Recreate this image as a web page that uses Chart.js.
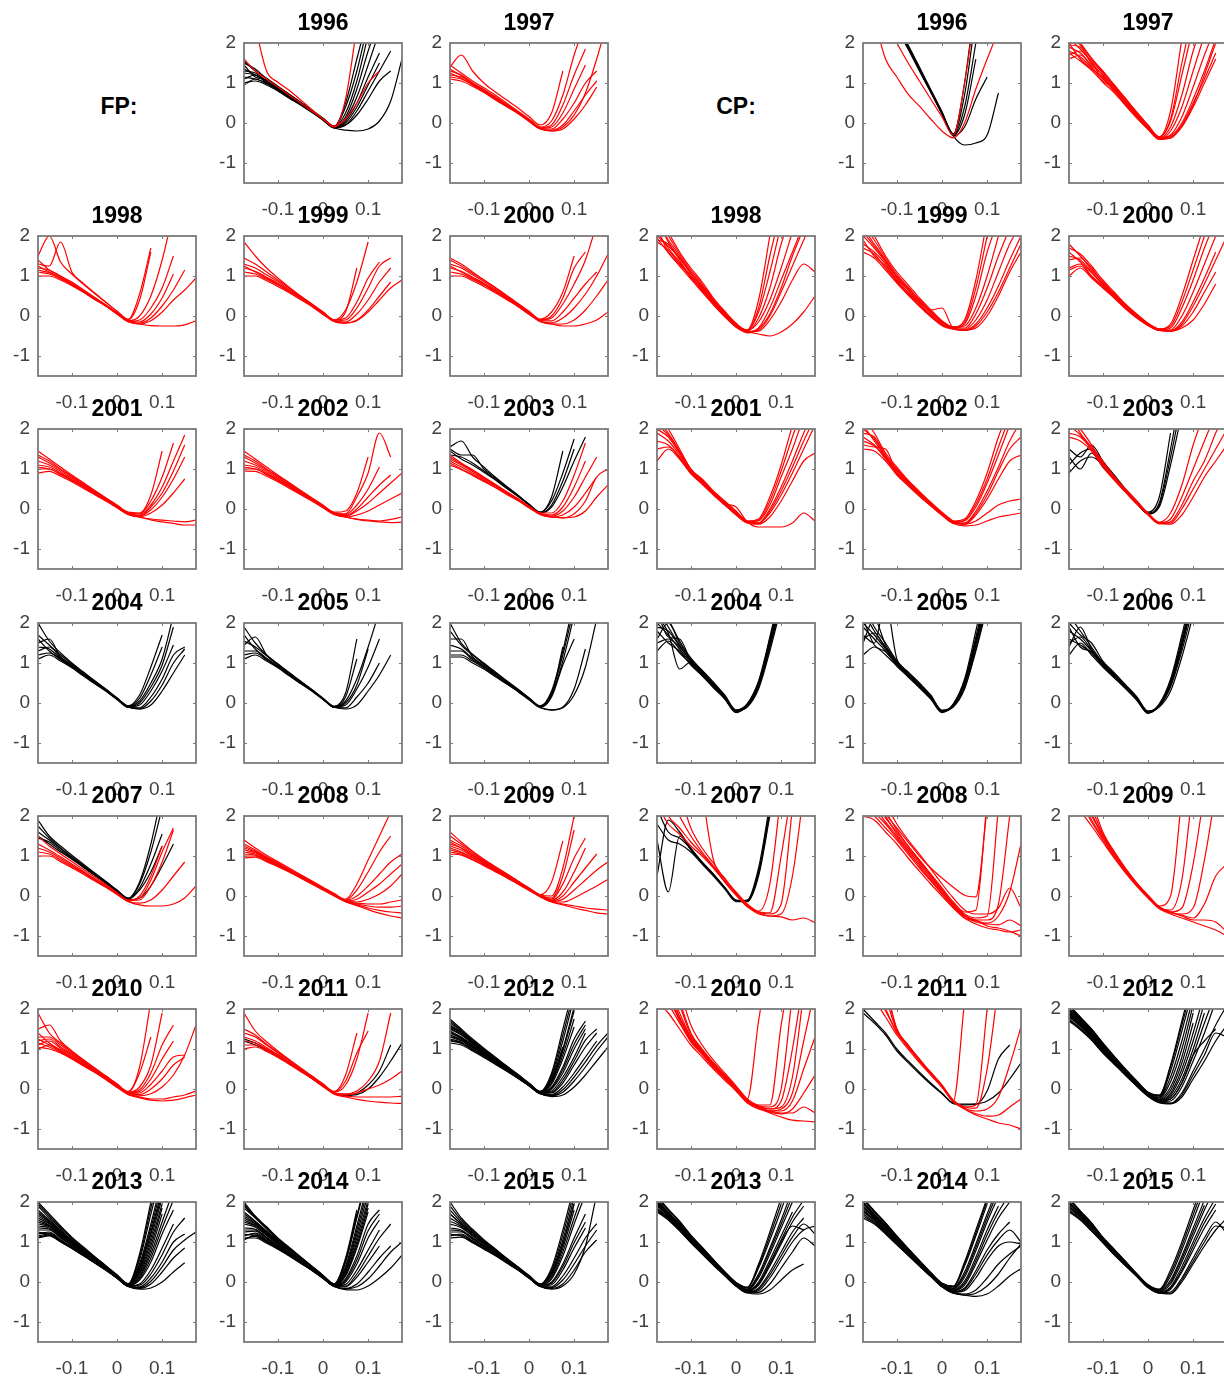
<!DOCTYPE html>
<html>
<head>
<meta charset="utf-8">
<script src="https://cdn.jsdelivr.net/npm/chart.js@4.4.1/dist/chart.umd.min.js"></script>
<style>
html, body { margin: 0; padding: 0; background: #fff; overflow: hidden; }
#fig { position: relative; width: 1224px; height: 1376px; overflow: hidden; }
#fig canvas { position: absolute; }
.lab { position: absolute; font: bold 23px "Liberation Sans", Arial, sans-serif; transform: translate(-50%, -50%); color: #000; }
</style>
</head>
<body>
<div id="fig">
  <div class="lab" style="left:119px; top:106px">FP:</div>
  <div class="lab" style="left:736px; top:106px">CP:</div>
</div>
<script>
const _ = null;
// moneyness grid shared by every curve
const xs = [-0.175, -0.15, -0.125, -0.1, -0.075, -0.05, -0.025, 0, 0.025, 0.05, 0.075, 0.1, 0.125, 0.15, 0.175];
const xTicks = [-0.1, 0, 0.1];
const xTickLabels = ['-0.1', '0', '0.1'];
const yTicks = [-1, 0, 1, 2];
const yTickLabels = ['-1', '0', '1', '2'];
const topYears = [1996, 1997];
const gridYears = [1998, 1999, 2000, 2001, 2002, 2003, 2004, 2005, 2006, 2007, 2008, 2009, 2010, 2011, 2012, 2013, 2014, 2015];

// ---------- FP ----------
const fp1996k = [
  [1.55,1.3,1.12,0.92,0.72,0.52,0.32,0.12,-0.08,0.4,1.3,2.5],
  [1.3,1.25,1.05,0.88,0.7,0.5,0.3,0.1,-0.1,0.25,1.05,2.2],
  [1.1,1.2,1.0,0.84,0.66,0.48,0.3,0.1,-0.1,0.15,0.85,1.8,2.6],
  [1.45,1.15,1.08,0.9,0.7,0.5,0.3,0.1,-0.1,0.1,0.65,1.45,2.3],
  [0.95,1.1,0.98,0.82,0.64,0.46,0.28,0.08,-0.12,0.05,0.5,1.15,1.75],
  [1.25,1.2,1.02,0.86,0.68,0.48,0.28,0.08,-0.12,0.0,0.4,0.95,1.5],
  [1.0,1.05,0.95,0.8,0.62,0.45,0.27,0.07,-0.12,-0.05,0.3,0.8,1.3,1.8],
  [1.35,1.2,1.05,0.87,0.69,0.5,0.3,0.1,-0.1,-0.05,0.2,0.6,1.05,1.3],
  [1.15,1.1,1.0,0.83,0.65,0.47,0.28,0.08,-0.12,-0.18,-0.2,-0.15,0.05,0.55,1.6],
  [1.5,1.35,1.1,0.9,0.72,0.52,0.32,0.12,-0.08,0.5,1.6,2.7]
];
const fp1996r = [
  [_,2.4,1.3,1.02,0.82,0.58,0.34,0.1,-0.1,0.6,2.4],
  [1.6,1.3,1.1,0.9,0.7,0.5,0.3,0.1,-0.08,0.1,0.5,1.0,1.3]
];
const fp1997r = [
  [1.4,1.7,1.3,1.0,0.78,0.58,0.38,0.16,-0.05,0.25,1.3],
  [1.45,1.25,1.05,0.88,0.7,0.5,0.3,0.1,-0.1,0.05,0.7,1.7,2.5],
  [1.3,1.2,1.0,0.84,0.66,0.47,0.28,0.08,-0.12,-0.05,0.45,1.2,1.85],
  [1.2,1.15,0.98,0.8,0.62,0.44,0.26,0.06,-0.13,-0.1,0.25,0.85,1.45],
  [1.15,1.1,0.95,0.78,0.6,0.42,0.25,0.05,-0.14,-0.15,0.1,0.5,1.0,1.3],
  [1.35,1.18,1.0,0.82,0.64,0.45,0.27,0.07,-0.13,-0.18,-0.05,0.3,0.7,1.05],
  [1.25,1.12,0.96,0.8,0.62,0.44,0.26,0.06,-0.14,-0.2,-0.15,0.1,0.45,0.9],
  [1.1,1.05,0.92,0.76,0.58,0.41,0.24,0.04,-0.15,-0.2,-0.1,0.2,0.75,1.6,2.6]
];
const fp1998r = [
  [1.5,2.0,1.35,1.05,0.8,0.57,0.34,0.12,-0.08,0.55,1.7],
  [1.3,1.25,1.85,1.1,0.82,0.58,0.35,0.12,-0.09,0.4,1.6],
  [1.2,1.15,1.0,0.85,0.66,0.47,0.28,0.08,-0.12,0.0,0.5,1.4,2.6],
  [1.1,1.05,0.95,0.8,0.62,0.44,0.26,0.06,-0.13,-0.1,0.2,0.7,1.5],
  [1.4,1.15,0.98,0.82,0.64,0.45,0.27,0.07,-0.13,-0.15,0.05,0.45,1.05],
  [1.0,1.0,0.9,0.76,0.6,0.42,0.25,0.05,-0.14,-0.18,-0.05,0.25,0.65,1.15],
  [1.25,1.1,0.95,0.79,0.61,0.43,0.26,0.06,-0.14,-0.2,-0.12,0.1,0.4,0.65,0.95],
  [1.15,1.08,0.93,0.78,0.6,0.42,0.25,0.05,-0.13,-0.2,-0.24,-0.25,-0.25,-0.22,-0.12]
];
const fp1999r = [
  [1.85,1.5,1.2,0.95,0.72,0.5,0.3,0.1,-0.1,0.15,0.85,1.85],
  [1.45,1.3,1.1,0.9,0.7,0.5,0.3,0.1,-0.1,0.1,1.2],
  [1.3,1.2,1.03,0.86,0.67,0.48,0.29,0.09,-0.1,-0.05,0.35,0.95,1.35],
  [1.2,1.12,0.97,0.82,0.64,0.46,0.28,0.08,-0.12,-0.1,0.2,0.7,1.25,1.45],
  [1.1,1.05,0.92,0.78,0.61,0.44,0.26,0.06,-0.13,-0.15,0.05,0.4,0.85,1.2],
  [1.0,1.0,0.88,0.74,0.58,0.41,0.24,0.04,-0.14,-0.18,-0.1,0.15,0.5,0.85],
  [1.25,1.1,0.95,0.8,0.62,0.44,0.27,0.07,-0.13,-0.17,-0.12,0.1,0.4,0.7,0.9]
];
const fp2000r = [
  [1.4,1.25,1.07,0.9,0.72,0.52,0.32,0.12,-0.08,0.1,0.6,1.5],
  [1.45,1.3,1.1,0.9,0.7,0.5,0.3,0.1,-0.1,0.0,0.45,1.2,1.6],
  [1.3,1.2,1.03,0.86,0.67,0.48,0.29,0.09,-0.1,-0.05,0.3,0.8,1.4,2.3],
  [1.2,1.12,0.97,0.82,0.64,0.46,0.28,0.08,-0.12,-0.12,0.1,0.45,0.8,1.1],
  [1.1,1.05,0.92,0.78,0.61,0.44,0.26,0.06,-0.13,-0.17,-0.05,0.2,0.55,1.0,1.55],
  [1.0,1.0,0.88,0.74,0.58,0.41,0.24,0.04,-0.14,-0.2,-0.2,-0.1,0.15,0.5,0.9],
  [1.25,1.1,0.95,0.8,0.62,0.44,0.27,0.07,-0.13,-0.2,-0.25,-0.25,-0.2,-0.1,0.1]
];
const fp2001r = [
  [1.45,1.25,1.05,0.85,0.66,0.47,0.28,0.1,-0.08,-0.1,0.35,1.45],
  [1.3,1.15,0.98,0.8,0.62,0.44,0.26,0.07,-0.1,-0.12,0.2,0.8,1.65],
  [1.2,1.1,0.94,0.77,0.6,0.42,0.25,0.06,-0.11,-0.15,0.1,0.55,1.2,1.85],
  [1.1,1.05,0.9,0.74,0.58,0.4,0.24,0.05,-0.12,-0.17,0.05,0.4,0.95,1.6],
  [1.0,1.0,0.86,0.71,0.55,0.38,0.22,0.04,-0.13,-0.18,-0.02,0.3,0.75,1.3],
  [0.9,0.94,0.82,0.68,0.52,0.36,0.2,0.03,-0.14,-0.2,-0.1,0.1,0.4,0.75],
  [1.35,1.2,1.0,0.82,0.64,0.45,0.27,0.08,-0.1,-0.2,-0.25,-0.28,-0.3,-0.32,-0.28],
  [1.05,1.0,0.88,0.72,0.56,0.39,0.23,0.05,-0.12,-0.2,-0.27,-0.32,-0.36,-0.4,-0.4]
];
const fp2002r = [
  [1.45,1.25,1.05,0.85,0.66,0.47,0.28,0.1,-0.08,-0.05,0.4,1.3],
  [1.3,1.15,0.98,0.8,0.62,0.44,0.26,0.07,-0.1,-0.12,0.3,0.9,1.9,1.3],
  [1.2,1.1,0.94,0.77,0.6,0.42,0.25,0.06,-0.11,-0.14,0.1,0.5,1.05],
  [1.1,1.05,0.9,0.74,0.58,0.4,0.24,0.05,-0.12,-0.17,0.0,0.3,0.6,0.85],
  [1.0,1.0,0.86,0.71,0.55,0.38,0.22,0.04,-0.13,-0.18,-0.05,0.15,0.4,0.65,0.9],
  [0.95,0.94,0.82,0.68,0.52,0.36,0.2,0.03,-0.14,-0.2,-0.15,-0.05,0.1,0.25,0.4],
  [1.35,1.2,1.0,0.82,0.64,0.45,0.27,0.08,-0.1,-0.2,-0.25,-0.28,-0.3,-0.26,-0.2],
  [1.05,1.0,0.88,0.72,0.56,0.39,0.23,0.05,-0.12,-0.2,-0.26,-0.3,-0.32,-0.34,-0.33]
];
const fp2003k = [
  [1.55,1.7,1.3,1.05,0.8,0.57,0.35,0.12,-0.08,0.3,1.45],
  [1.5,1.35,1.35,1.0,0.78,0.56,0.34,0.12,-0.08,0.2,0.9,1.75],
  [1.35,1.3,1.15,0.95,0.75,0.54,0.33,0.11,-0.1,0.05,0.55,1.2,1.8],
  [1.45,1.25,1.1,0.92,0.73,0.52,0.32,0.1,-0.1,0.1,0.7,1.5]
];
const fp2003r = [
  [1.35,1.15,0.98,0.8,0.62,0.44,0.26,0.07,-0.1,-0.1,0.2,0.85,1.65],
  [1.25,1.1,0.94,0.77,0.6,0.42,0.25,0.06,-0.11,-0.15,0.05,0.55,1.2],
  [1.2,1.05,0.9,0.74,0.58,0.4,0.24,0.05,-0.12,-0.18,-0.05,0.3,0.8,1.3],
  [1.15,1.0,0.86,0.71,0.55,0.38,0.22,0.04,-0.13,-0.2,-0.15,0.05,0.4,0.8],
  [1.1,0.98,0.84,0.69,0.54,0.37,0.21,0.03,-0.14,-0.2,-0.22,-0.12,0.2,0.8,1.0],
  [1.3,1.12,0.96,0.78,0.61,0.43,0.25,0.06,-0.12,-0.2,-0.22,-0.2,-0.05,0.3,0.6]
];
const fp2004k = [
  [2.0,1.55,1.25,1.0,0.78,0.56,0.35,0.13,-0.07,0.2,0.9,1.7],
  [1.7,1.45,1.2,0.98,0.76,0.55,0.34,0.12,-0.08,0.12,0.7,1.4],
  [1.5,1.6,1.15,0.95,0.74,0.53,0.33,0.11,-0.09,0.05,0.5,1.1,2.2],
  [1.4,1.35,1.12,0.92,0.72,0.52,0.32,0.1,-0.1,0.0,0.4,0.95,1.9],
  [1.2,1.25,1.08,0.9,0.7,0.5,0.31,0.1,-0.1,-0.05,0.3,0.8,1.45],
  [1.1,1.2,1.05,0.88,0.68,0.49,0.3,0.09,-0.11,-0.12,0.15,0.6,1.2,1.4],
  [1.6,1.3,1.1,0.9,0.7,0.5,0.31,0.1,-0.1,-0.15,0.05,0.45,1.0,1.35],
  [1.3,1.4,1.15,0.93,0.72,0.52,0.32,0.11,-0.09,-0.15,-0.05,0.3,0.75,1.2]
];
const fp2005k = [
  [1.9,1.5,1.2,0.98,0.76,0.55,0.34,0.12,-0.08,0.25,1.6],
  [1.55,1.4,1.18,0.96,0.75,0.54,0.33,0.11,-0.09,0.15,1.1],
  [1.45,1.65,1.2,0.95,0.74,0.53,0.33,0.11,-0.1,0.05,0.6,1.4,2.3],
  [1.3,1.3,1.12,0.92,0.72,0.52,0.32,0.1,-0.1,0.0,0.45,1.35],
  [1.2,1.25,1.08,0.9,0.7,0.5,0.31,0.1,-0.1,-0.05,0.35,0.9,1.6],
  [1.1,1.2,1.05,0.88,0.68,0.49,0.3,0.09,-0.11,-0.12,0.15,0.5,1.0],
  [1.7,1.35,1.1,0.9,0.7,0.5,0.31,0.1,-0.1,-0.15,-0.05,0.3,0.7,1.2]
];
const fp2006k = [
  [2.0,1.5,1.22,1.0,0.78,0.56,0.35,0.13,-0.07,0.3,1.3,2.6],
  [1.8,1.45,1.2,0.98,0.76,0.55,0.34,0.12,-0.08,0.25,1.2,2.4],
  [1.6,1.6,1.15,0.95,0.74,0.53,0.33,0.11,-0.09,0.2,1.05,2.2],
  [1.45,1.35,1.12,0.92,0.72,0.52,0.32,0.1,-0.1,0.15,0.95,1.6],
  [1.3,1.3,1.08,0.9,0.7,0.5,0.31,0.1,-0.1,0.2,1.4],
  [1.2,1.2,1.05,0.88,0.68,0.49,0.3,0.09,-0.11,-0.17,-0.1,0.35,1.35],
  [1.15,1.15,1.0,0.85,0.66,0.48,0.29,0.08,-0.12,-0.18,-0.12,0.2,0.9,2.1]
];
const fp2007k = [
  [1.9,1.5,1.25,1.02,0.8,0.58,0.37,0.15,-0.05,0.35,1.3,2.6],
  [1.75,1.45,1.2,0.98,0.77,0.56,0.35,0.14,-0.06,0.3,1.1,2.2],
  [1.6,1.4,1.18,0.96,0.75,0.54,0.34,0.13,-0.07,0.2,0.8,1.55],
  [1.45,1.35,1.14,0.94,0.73,0.53,0.33,0.12,-0.08,0.15,0.6,1.25],
  [1.5,1.3,1.1,0.92,0.72,0.52,0.32,0.11,-0.09,-0.05,0.25,0.75,1.3]
];
const fp2007r = [
  [1.5,1.25,1.05,0.86,0.67,0.48,0.29,0.09,-0.1,-0.05,0.4,1.1,1.7],
  [1.3,1.15,0.98,0.8,0.62,0.44,0.26,0.07,-0.11,-0.1,0.25,0.85,1.65],
  [1.2,1.1,0.94,0.77,0.6,0.42,0.25,0.06,-0.12,0.0,0.5,1.25],
  [1.1,1.05,0.9,0.74,0.58,0.4,0.24,0.05,-0.13,-0.18,-0.1,0.15,0.5,0.85],
  [1.0,1.0,0.86,0.71,0.55,0.38,0.22,0.04,-0.14,-0.22,-0.25,-0.25,-0.2,-0.05,0.25]
];
const fp2008r = [
  [1.4,1.2,1.02,0.86,0.7,0.54,0.38,0.22,0.06,-0.08,0.3,0.9,1.5,2.1],
  [1.3,1.15,0.98,0.83,0.67,0.52,0.36,0.2,0.04,-0.1,0.15,0.6,1.1,1.5],
  [1.2,1.1,0.95,0.8,0.65,0.5,0.34,0.18,0.03,-0.11,0.0,0.25,0.55,0.85,1.05],
  [1.1,1.05,0.92,0.78,0.63,0.48,0.33,0.17,0.02,-0.12,-0.08,0.1,0.3,0.55,0.8],
  [1.0,1.0,0.88,0.75,0.61,0.46,0.31,0.16,0.01,-0.13,-0.15,-0.08,0.05,0.25,0.55],
  [1.25,1.12,0.96,0.81,0.66,0.51,0.35,0.19,0.03,-0.12,-0.18,-0.2,-0.2,-0.15,-0.1],
  [1.15,1.08,0.94,0.79,0.64,0.49,0.34,0.18,0.02,-0.13,-0.2,-0.25,-0.28,-0.28,-0.25],
  [1.05,1.02,0.9,0.76,0.62,0.47,0.32,0.17,0.01,-0.14,-0.22,-0.3,-0.36,-0.4,-0.42],
  [0.95,0.97,0.86,0.73,0.6,0.45,0.3,0.15,0.0,-0.14,-0.24,-0.34,-0.43,-0.5,-0.55]
];
const fp2009r = [
  [1.6,1.35,1.12,0.92,0.74,0.56,0.38,0.2,0.03,0.35,1.38],
  [1.5,1.3,1.1,0.9,0.72,0.55,0.37,0.2,0.03,0.0,0.7,2.0],
  [1.4,1.25,1.06,0.88,0.7,0.53,0.36,0.19,0.02,-0.05,0.5,1.65],
  [1.3,1.2,1.03,0.86,0.68,0.51,0.35,0.18,0.01,-0.08,0.3,0.95,1.45],
  [1.25,1.15,1.0,0.84,0.67,0.5,0.34,0.17,0.0,-0.1,0.1,0.6,1.2],
  [1.2,1.1,0.97,0.82,0.65,0.49,0.33,0.16,-0.01,-0.12,0.0,0.35,0.7,1.05],
  [1.15,1.08,0.95,0.8,0.64,0.48,0.32,0.16,-0.01,-0.13,-0.08,0.15,0.4,0.65,0.85],
  [1.1,1.05,0.92,0.78,0.62,0.47,0.31,0.15,-0.02,-0.14,-0.15,-0.05,0.1,0.25,0.42],
  [1.35,1.2,1.02,0.85,0.68,0.51,0.35,0.18,0.01,-0.13,-0.2,-0.25,-0.3,-0.33,-0.35],
  [1.05,1.02,0.9,0.76,0.61,0.46,0.3,0.14,-0.02,-0.15,-0.22,-0.3,-0.36,-0.42,-0.45]
];
const fp2010r = [
  [1.9,1.4,1.15,0.93,0.72,0.52,0.32,0.12,-0.07,0.55,2.2],
  [1.5,1.6,1.2,0.95,0.74,0.53,0.33,0.13,-0.06,0.4,1.3],
  [1.3,1.3,1.1,0.9,0.7,0.5,0.31,0.11,-0.08,0.05,0.6,1.9],
  [1.2,1.25,1.05,0.87,0.68,0.49,0.3,0.1,-0.09,-0.02,0.4,1.1,1.6],
  [1.1,1.2,1.02,0.85,0.66,0.48,0.29,0.09,-0.1,-0.06,0.25,0.75,1.2],
  [1.0,1.1,0.98,0.82,0.64,0.46,0.28,0.08,-0.11,-0.1,0.12,0.45,0.8,0.85],
  [1.4,1.15,0.96,0.8,0.62,0.45,0.27,0.07,-0.12,-0.14,0.0,0.25,0.6,0.8],
  [1.25,1.1,0.94,0.78,0.61,0.44,0.26,0.06,-0.13,-0.17,-0.12,0.05,0.35,0.85,1.6],
  [1.15,1.05,0.92,0.76,0.6,0.43,0.25,0.05,-0.13,-0.2,-0.25,-0.25,-0.2,-0.15,-0.05],
  [1.05,1.0,0.9,0.75,0.58,0.42,0.24,0.04,-0.14,-0.22,-0.28,-0.3,-0.28,-0.22,-0.15]
];
const fp2011k = [
  [1.25,1.15,1.0,0.84,0.66,0.47,0.28,0.08,-0.1,-0.15,-0.1,0.1,0.45,1.1],
  [1.2,1.1,0.97,0.82,0.64,0.46,0.27,0.07,-0.11,-0.16,-0.14,0.0,0.3,0.7,1.15]
];
const fp2011r = [
  [1.9,1.45,1.18,0.95,0.74,0.53,0.33,0.13,-0.06,0.35,1.4],
  [1.5,1.35,1.12,0.92,0.72,0.52,0.32,0.12,-0.07,0.2,0.9,1.45],
  [1.4,1.3,1.1,0.9,0.7,0.51,0.31,0.11,-0.08,0.1,0.75,1.9],
  [1.3,1.2,1.04,0.86,0.67,0.48,0.29,0.09,-0.1,-0.12,-0.05,0.2,0.7,1.9],
  [1.2,1.15,1.0,0.84,0.66,0.47,0.28,0.08,-0.11,-0.15,-0.1,0.0,0.1,0.25,0.45],
  [1.1,1.1,0.97,0.82,0.64,0.46,0.27,0.07,-0.12,-0.18,-0.2,-0.2,-0.2,-0.2,-0.18],
  [1.0,1.05,0.94,0.79,0.62,0.44,0.26,0.06,-0.13,-0.2,-0.26,-0.3,-0.33,-0.35,-0.36]
];
const fp2012k = [
  [1.75,1.5,1.25,1.02,0.8,0.58,0.37,0.15,-0.06,0.4,1.5,2.6],
  [1.65,1.45,1.2,0.98,0.77,0.56,0.35,0.14,-0.07,0.3,1.2,2.3],
  [1.55,1.4,1.16,0.95,0.75,0.54,0.34,0.13,-0.08,0.2,0.95,1.95],
  [1.5,1.35,1.13,0.93,0.73,0.53,0.33,0.12,-0.08,0.12,0.75,1.55],
  [1.45,1.3,1.1,0.91,0.71,0.51,0.32,0.11,-0.09,0.05,0.55,1.25,1.7],
  [1.4,1.27,1.08,0.89,0.7,0.5,0.31,0.11,-0.1,0.0,0.4,1.0,1.5],
  [1.35,1.24,1.06,0.87,0.68,0.49,0.3,0.1,-0.1,-0.05,0.3,0.8,1.4],
  [1.3,1.2,1.03,0.85,0.67,0.48,0.29,0.09,-0.11,-0.1,0.15,0.6,1.05,1.4],
  [1.25,1.17,1.0,0.83,0.65,0.47,0.28,0.09,-0.11,-0.14,0.05,0.4,0.8,1.2],
  [1.2,1.14,0.98,0.81,0.64,0.46,0.28,0.08,-0.12,-0.17,-0.08,0.2,0.55,0.95,1.3],
  [1.15,1.1,0.95,0.79,0.62,0.45,0.27,0.08,-0.12,-0.19,-0.15,0.05,0.35,0.7,1.05],
  [1.6,1.42,1.18,0.97,0.76,0.55,0.35,0.13,-0.07,0.25,1.05],
  [1.7,1.47,1.22,1.0,0.78,0.57,0.36,0.14,-0.06,0.35,1.35,2.45],
  [1.52,1.37,1.14,0.94,0.74,0.53,0.33,0.12,-0.08,0.16,0.85,1.75],
  [1.42,1.28,1.09,0.9,0.7,0.5,0.31,0.11,-0.09,0.02,0.48,1.12,1.6],
  [1.32,1.22,1.04,0.86,0.67,0.48,0.29,0.1,-0.1,-0.08,0.22,0.7,1.22,1.5],
  [1.22,1.15,0.99,0.82,0.64,0.46,0.28,0.08,-0.12,-0.16,-0.02,0.3,0.68,1.08,1.4],
  [1.58,1.41,1.17,0.96,0.75,0.54,0.34,0.13,-0.08,0.22,1.0,2.05]
];
const fp2013k = [
  [2.0,1.7,1.4,1.12,0.88,0.64,0.41,0.18,-0.04,0.7,2.0],
  [1.9,1.6,1.34,1.08,0.85,0.62,0.4,0.17,-0.05,0.55,1.7,2.8],
  [1.8,1.55,1.3,1.05,0.83,0.6,0.38,0.16,-0.06,0.45,1.45,2.6],
  [1.7,1.5,1.26,1.02,0.8,0.58,0.37,0.15,-0.06,0.35,1.25,2.3],
  [1.6,1.45,1.22,1.0,0.78,0.57,0.36,0.14,-0.07,0.28,1.1,2.1],
  [1.5,1.4,1.18,0.97,0.76,0.55,0.35,0.13,-0.08,0.2,0.9,1.85],
  [1.4,1.35,1.14,0.94,0.74,0.54,0.34,0.12,-0.08,0.12,0.7,1.5,2.3],
  [1.3,1.3,1.1,0.91,0.72,0.52,0.33,0.12,-0.09,0.05,0.5,1.2,1.8],
  [1.2,1.25,1.06,0.88,0.7,0.51,0.32,0.11,-0.1,-0.05,0.3,0.85,1.45],
  [1.15,1.2,1.03,0.86,0.68,0.49,0.31,0.1,-0.1,-0.12,0.1,0.5,1.0,1.2],
  [1.1,1.15,1.0,0.84,0.66,0.48,0.3,0.1,-0.11,-0.16,-0.05,0.25,0.6,0.85],
  [1.25,1.18,1.02,0.85,0.67,0.49,0.3,0.1,-0.11,-0.18,-0.15,0.0,0.25,0.48],
  [1.65,1.48,1.24,1.01,0.79,0.58,0.36,0.14,-0.07,0.32,1.2,2.2],
  [1.45,1.38,1.16,0.96,0.75,0.55,0.35,0.13,-0.08,0.15,0.8,1.7],
  [1.95,1.65,1.37,1.1,0.86,0.63,0.4,0.17,-0.05,0.62,1.85,2.9],
  [1.75,1.52,1.28,1.03,0.81,0.59,0.37,0.15,-0.06,0.4,1.35,2.45],
  [1.55,1.42,1.2,0.98,0.77,0.56,0.35,0.14,-0.07,0.24,1.0,1.95],
  [1.35,1.32,1.12,0.92,0.73,0.53,0.33,0.12,-0.09,0.08,0.6,1.35,2.05],
  [1.22,1.22,1.04,0.87,0.69,0.5,0.31,0.1,-0.1,-0.08,0.2,0.68,1.25,1.6],
  [1.12,1.17,1.01,0.85,0.67,0.48,0.3,0.1,-0.11,-0.14,0.02,0.38,0.8,1.05,1.25]
];
const fp2014k = [
  [2.0,1.65,1.38,1.1,0.87,0.63,0.4,0.17,-0.05,0.6,1.8],
  [1.85,1.6,1.33,1.07,0.84,0.61,0.39,0.16,-0.05,0.5,1.6,2.7],
  [1.75,1.52,1.28,1.04,0.82,0.6,0.38,0.15,-0.06,0.4,1.4,2.5],
  [1.65,1.47,1.24,1.01,0.79,0.58,0.37,0.14,-0.07,0.3,1.2,2.2],
  [1.55,1.42,1.2,0.98,0.77,0.56,0.36,0.14,-0.07,0.22,1.0,1.95],
  [1.45,1.37,1.16,0.95,0.75,0.55,0.35,0.13,-0.08,0.15,0.85,1.75],
  [1.35,1.32,1.12,0.92,0.73,0.53,0.34,0.12,-0.09,0.08,0.65,1.45,1.8],
  [1.25,1.27,1.08,0.9,0.71,0.52,0.33,0.12,-0.09,0.0,0.45,1.1,1.55],
  [1.15,1.22,1.05,0.88,0.7,0.5,0.32,0.11,-0.1,-0.06,0.3,0.8,1.3],
  [1.05,1.17,1.02,0.85,0.68,0.49,0.31,0.1,-0.1,-0.12,0.12,0.5,0.9],
  [1.2,1.15,1.0,0.84,0.67,0.48,0.3,0.1,-0.11,-0.16,-0.05,0.25,0.6,0.9],
  [1.1,1.1,0.97,0.82,0.65,0.47,0.29,0.09,-0.11,-0.19,-0.2,-0.1,0.1,0.35,0.67],
  [1.6,1.45,1.22,1.0,0.78,0.57,0.36,0.14,-0.07,0.26,1.1,2.05],
  [1.95,1.62,1.35,1.08,0.85,0.62,0.39,0.16,-0.05,0.55,1.7],
  [1.9,1.62,1.35,1.08,0.85,0.62,0.39,0.16,-0.05,0.52,1.65,2.8],
  [1.7,1.5,1.26,1.02,0.8,0.59,0.37,0.15,-0.06,0.35,1.3,2.35],
  [1.5,1.4,1.18,0.96,0.76,0.55,0.35,0.13,-0.08,0.18,0.92,1.85],
  [1.3,1.3,1.1,0.91,0.72,0.52,0.33,0.12,-0.09,0.04,0.55,1.28,1.7],
  [1.18,1.2,1.03,0.86,0.69,0.5,0.31,0.1,-0.1,-0.1,0.2,0.65,1.1,1.45],
  [1.08,1.14,1.0,0.84,0.66,0.48,0.3,0.1,-0.11,-0.17,-0.12,0.08,0.4,0.75,1.0]
];
const fp2015k = [
  [2.0,1.6,1.32,1.06,0.83,0.6,0.38,0.16,-0.05,0.35,1.3,2.4],
  [1.8,1.5,1.26,1.02,0.8,0.58,0.37,0.15,-0.06,0.25,1.05,2.1],
  [1.6,1.42,1.2,0.98,0.77,0.56,0.36,0.14,-0.07,0.15,0.85,1.8],
  [1.45,1.36,1.15,0.95,0.75,0.54,0.35,0.13,-0.08,0.08,0.65,1.45,2.2],
  [1.35,1.3,1.11,0.92,0.73,0.53,0.34,0.12,-0.09,0.0,0.45,1.1,1.7],
  [1.25,1.25,1.07,0.89,0.71,0.51,0.33,0.11,-0.1,-0.07,0.3,0.85,1.35],
  [1.15,1.2,1.03,0.86,0.69,0.5,0.32,0.11,-0.1,-0.12,0.15,0.6,1.1,1.46],
  [1.2,1.15,1.0,0.84,0.67,0.49,0.31,0.1,-0.11,-0.16,-0.05,0.3,0.75,1.05],
  [1.1,1.12,0.98,0.82,0.66,0.48,0.3,0.1,-0.11,-0.18,-0.1,0.2,0.9,2.2],
  [1.7,1.45,1.23,1.0,0.79,0.57,0.36,0.14,-0.06,0.2,0.95,1.95],
  [1.9,1.55,1.29,1.04,0.82,0.59,0.38,0.16,-0.05,0.3,1.18,2.25],
  [1.7,1.46,1.23,1.0,0.78,0.57,0.36,0.14,-0.07,0.2,0.95,1.95],
  [1.52,1.39,1.17,0.96,0.76,0.55,0.35,0.13,-0.08,0.1,0.75,1.6,2.4],
  [1.3,1.27,1.09,0.9,0.72,0.52,0.33,0.11,-0.09,-0.03,0.38,0.98,1.5],
  [1.18,1.17,1.01,0.85,0.68,0.49,0.31,0.1,-0.11,-0.14,0.05,0.45,0.9,1.3]
];

// ---------- CP ----------
const cp1996k = [
  [_,_,_,2.4,1.9,1.35,0.8,0.25,-0.28,1.0,3.2],
  [_,_,_,2.45,1.92,1.37,0.82,0.27,-0.27,0.7,2.7],
  [_,_,_,2.35,1.85,1.3,0.77,0.22,-0.3,0.4,2.0],
  [_,_,_,2.5,1.95,1.4,0.84,0.28,-0.3,0.2,1.6],
  [_,_,_,2.4,1.88,1.33,0.78,0.24,-0.32,-0.1,0.6,1.15],
  [_,_,_,2.38,1.86,1.32,0.79,0.24,-0.32,-0.55,-0.5,-0.3,0.75]
];
const cp1996r = [
  [_,2.6,1.6,1.15,0.72,0.42,0.1,-0.2,-0.37,0.0,0.85,1.6,2.3],
  [_,_,_,2.0,1.5,1.05,0.6,0.15,-0.3,1.0,3.0],
  [1.97,2.4]
];
const cp1997r = [
  [1.9,1.75,1.45,1.2,0.85,0.55,0.2,-0.1,-0.35,0.3,2.1],
  [2.1,1.85,1.55,1.25,0.95,0.6,0.28,-0.05,-0.35,0.05,1.2,2.4],
  [1.7,1.8,1.5,1.1,0.9,0.5,0.22,-0.12,-0.38,-0.1,0.7,1.8,2.6],
  [2.0,1.6,1.35,1.15,0.8,0.52,0.18,-0.1,-0.4,-0.2,0.4,1.3,2.2],
  [1.6,1.7,1.4,1.05,0.85,0.45,0.15,-0.15,-0.38,-0.3,0.15,0.9,1.7,2.4],
  [2.2,1.95,1.6,1.3,0.95,0.62,0.25,-0.08,-0.36,-0.32,0.0,0.6,1.3,2.1],
  [1.8,1.65,1.38,1.12,0.8,0.48,0.17,-0.13,-0.4,-0.38,-0.1,0.4,1.0,1.6],
  [1.95,1.9,1.5,1.2,0.9,0.55,0.22,-0.1,-0.37,-0.35,-0.05,0.5,1.1,1.75],
  [2.3,2.0,1.62,1.28,0.92,0.58,0.24,-0.08,-0.34,0.1,1.5,2.8],
  [1.75,1.55,1.32,1.02,0.76,0.44,0.12,-0.16,-0.41,-0.36,-0.08,0.45,1.2,2.0]
];
const cp1998r = [
  [2.3,1.9,1.5,1.1,0.75,0.4,0.05,-0.2,-0.35,0.4,2.0],
  [2.0,1.75,1.45,1.05,0.72,0.38,0.08,-0.22,-0.35,0.1,1.1,2.3],
  [2.2,1.6,1.3,1.0,0.65,0.35,0.02,-0.25,-0.38,-0.05,0.7,1.8,2.6],
  [1.9,1.8,1.4,0.95,0.7,0.3,0.0,-0.25,-0.36,-0.15,0.4,1.2,2.1],
  [2.4,2.0,1.55,1.15,0.8,0.42,0.1,-0.2,-0.4,-0.3,0.2,0.9,1.6,2.3],
  [2.1,1.7,1.35,1.0,0.68,0.33,0.04,-0.24,-0.4,-0.35,0.0,0.6,1.25,1.9,2.5],
  [1.85,1.65,1.3,0.98,0.62,0.3,0.0,-0.27,-0.4,-0.38,-0.1,0.35,0.9,1.3,1.1],
  [2.5,1.85,1.45,1.08,0.75,0.38,0.06,-0.22,-0.38,-0.45,-0.5,-0.4,-0.2,0.1,0.5],
  [2.6,2.1,1.6,1.2,0.85,0.45,0.12,-0.18,-0.37,0.2,1.5,2.7],
  [1.95,1.58,1.25,0.92,0.6,0.28,-0.02,-0.28,-0.42,-0.32,0.05,0.7,1.5,2.2]
];
const cp1999r = [
  [2.0,1.7,1.35,0.95,0.65,0.35,0.1,-0.15,-0.28,-0.1,0.9,2.4],
  [1.8,1.6,1.3,0.9,0.6,0.32,0.05,-0.18,-0.3,-0.2,0.5,1.6,2.4],
  [2.2,1.8,1.4,1.0,0.7,0.4,0.15,0.2,-0.28,-0.25,0.2,1.0,2.0],
  [1.9,1.5,1.25,0.88,0.58,0.28,0.02,-0.2,-0.3,-0.3,0.05,0.7,1.5,2.2],
  [2.1,1.75,1.38,0.98,0.66,0.36,0.1,-0.15,-0.3,-0.33,-0.1,0.4,1.1,1.8,2.3],
  [1.7,1.55,1.2,0.85,0.55,0.25,0.0,-0.22,-0.32,-0.35,-0.2,0.2,0.75,1.4,2.0],
  [2.3,1.9,1.45,1.05,0.72,0.4,0.12,-0.14,-0.3,-0.35,-0.3,0.0,0.5,1.1,1.6],
  [2.4,2.0,1.5,1.1,0.78,0.45,0.16,-0.12,-0.27,-0.15,0.7,2.0],
  [1.6,1.45,1.15,0.82,0.52,0.24,-0.02,-0.24,-0.33,-0.36,-0.25,0.1,0.6,1.2,1.8]
];
const cp2000r = [
  [1.7,1.55,1.25,0.9,0.6,0.3,0.05,-0.18,-0.32,-0.2,0.5,1.4,2.3],
  [1.5,1.4,1.1,0.8,0.52,0.25,0.0,-0.2,-0.35,-0.3,0.2,0.9,1.7,2.4],
  [1.2,1.3,1.0,0.75,0.48,0.2,-0.03,-0.22,-0.36,-0.35,0.0,0.6,1.3,2.0],
  [1.8,1.5,1.2,0.85,0.56,0.27,0.02,-0.2,-0.34,-0.36,-0.15,0.35,0.95,1.6],
  [1.0,1.2,0.95,0.7,0.45,0.18,-0.05,-0.24,-0.36,-0.38,-0.25,0.1,0.6,1.1],
  [1.6,1.35,1.08,0.78,0.5,0.22,-0.02,-0.22,-0.35,-0.38,-0.3,-0.1,0.3,0.8],
  [1.4,1.45,1.15,0.85,0.55,0.28,0.03,-0.19,-0.33,-0.25,0.35,1.15,2.0],
  [1.15,1.25,0.98,0.72,0.47,0.2,-0.04,-0.23,-0.36,-0.37,-0.2,0.25,0.8,1.4,2.0]
];
const cp2001r = [
  [2.4,2.0,1.5,1.0,0.75,0.45,0.2,-0.05,-0.3,-0.25,0.3,1.1,2.1],
  [2.0,1.8,1.4,0.95,0.7,0.4,0.15,-0.1,-0.32,-0.3,0.1,0.8,1.5,2.3],
  [1.7,1.6,1.3,0.9,0.65,0.38,0.12,-0.12,-0.33,-0.35,0.0,0.55,1.2,1.9,2.5],
  [2.2,1.9,1.45,1.0,0.72,0.42,0.18,-0.08,-0.3,-0.35,-0.1,0.35,0.9,1.5,2.1],
  [1.2,1.5,1.25,0.88,0.62,0.35,0.1,-0.15,-0.35,-0.38,-0.2,0.2,0.7,1.2,1.4],
  [1.9,1.7,1.35,0.92,0.68,0.4,0.14,0.05,-0.32,-0.45,-0.45,-0.45,-0.35,-0.1,-0.3],
  [2.1,1.85,1.42,0.98,0.7,0.41,0.16,-0.09,-0.31,-0.28,0.2,0.95,1.8,2.6],
  [1.5,1.55,1.28,0.9,0.64,0.36,0.11,-0.13,-0.34,-0.36,-0.05,0.45,1.05,1.7,2.3]
];
const cp2002r = [
  [1.9,1.8,1.35,1.0,0.7,0.42,0.15,-0.1,-0.3,-0.25,0.2,0.9,1.8,2.5],
  [2.1,1.7,1.3,0.95,0.65,0.38,0.12,-0.12,-0.33,-0.3,0.05,0.65,1.35,2.1],
  [1.6,1.55,1.5,0.9,0.62,0.35,0.1,-0.14,-0.35,-0.35,-0.05,0.45,1.05,1.7,2.2],
  [1.8,1.6,1.25,0.88,0.6,0.33,0.08,-0.15,-0.35,-0.38,-0.15,0.25,0.75,1.2,1.35],
  [2.3,1.9,1.4,1.05,0.72,0.44,0.17,-0.08,-0.3,-0.38,-0.3,-0.1,0.1,0.2,0.25],
  [1.5,1.45,1.2,0.85,0.58,0.32,0.08,-0.16,-0.36,-0.42,-0.4,-0.3,-0.2,-0.15,-0.1],
  [2.0,1.75,1.32,0.97,0.67,0.4,0.13,-0.11,-0.32,-0.28,0.12,0.75,1.55,2.3],
  [1.7,1.58,1.28,0.9,0.62,0.35,0.1,-0.14,-0.34,-0.36,-0.1,0.35,0.95,1.5,1.8]
];
const cp2003k = [
  [1.5,1.3,1.6,1.2,0.85,0.5,0.2,-0.08,0.3,1.9],
  [1.1,1.4,1.5,1.15,0.8,0.48,0.18,-0.1,0.15,1.5,3.0],
  [0.9,1.2,1.3,1.1,0.78,0.45,0.16,-0.12,0.05,1.1,2.4],
  [1.3,1.0,1.4,1.05,0.75,0.44,0.15,-0.12,0.1,1.3,2.7]
];
const cp2003r = [
  [2.2,2.0,1.6,1.15,0.8,0.5,0.2,-0.1,-0.33,-0.1,0.6,1.6,2.4],
  [1.9,1.8,1.5,1.1,0.75,0.45,0.15,-0.12,-0.35,-0.25,0.3,1.0,1.7,2.4],
  [2.4,1.9,1.55,1.2,0.82,0.48,0.18,-0.14,-0.37,-0.32,0.1,0.7,1.2,1.9,2.5],
  [1.8,1.7,1.45,1.05,0.72,0.42,0.12,-0.15,-0.36,-0.35,0.0,0.5,1.0,1.5,2.0],
  [2.1,1.85,1.5,1.12,0.78,0.46,0.16,-0.13,-0.35,-0.38,-0.15,0.3,0.8,1.2,1.6]
];
const cp2004k = [
  [2.4,1.9,1.45,1.05,0.75,0.45,0.15,-0.2,-0.05,0.5,1.55,2.7],
  [2.0,1.7,1.35,1.0,0.7,0.4,0.12,-0.22,-0.02,0.55,1.65,2.9],
  [1.6,2.0,1.5,1.1,0.8,0.5,0.18,-0.2,-0.08,0.4,1.4,2.5],
  [1.8,1.5,1.3,0.95,0.68,0.38,0.1,-0.24,-0.04,0.48,1.5,2.6],
  [2.2,1.75,0.85,1.02,0.72,0.42,0.13,-0.21,-0.06,0.45,1.45,2.6],
  [1.5,1.6,1.4,1.08,0.78,0.48,0.16,-0.19,-0.1,0.35,1.3,2.4],
  [2.6,2.1,1.55,1.12,0.82,0.52,0.2,-0.17,-0.02,0.52,1.6,2.8],
  [1.9,1.8,1.42,1.04,0.74,0.44,0.14,-0.2,-0.05,0.46,1.5,2.65],
  [1.3,1.55,1.25,0.98,0.7,0.41,0.12,-0.22,-0.07,0.42,1.42,2.55],
  [2.3,1.65,1.6,1.06,0.77,0.47,0.17,-0.19,-0.04,0.5,1.55,2.75]
];
const cp2005k = [
  [2.3,1.8,1.4,1.0,0.72,0.45,0.15,-0.2,-0.04,0.55,1.65,2.9],
  [1.9,1.6,1.3,0.95,0.68,0.4,0.12,-0.22,-0.02,0.6,1.8,3.1],
  [1.5,2.1,1.45,1.05,0.76,0.48,0.18,-0.2,-0.07,0.45,1.45,2.6],
  [1.2,1.4,1.2,0.92,0.65,0.38,0.1,-0.24,-0.05,0.5,1.55,2.7],
  [2.0,1.7,1.35,0.98,0.7,0.42,0.14,-0.21,-0.06,0.47,1.5,2.65],
  [1.7,1.5,2.5,1.1,0.78,0.5,0.2,-0.18,-0.08,0.4,1.35,2.5],
  [2.5,1.9,1.5,1.05,0.74,0.46,0.16,-0.2,-0.1,0.35,1.3,2.4],
  [1.6,1.75,1.38,1.02,0.73,0.44,0.14,-0.21,-0.05,0.5,1.55,2.75],
  [2.1,1.45,1.28,0.96,0.69,0.41,0.13,-0.22,-0.06,0.48,1.5,2.7]
];
const cp2006k = [
  [2.2,1.8,1.4,1.0,0.72,0.42,0.12,-0.22,-0.02,0.6,1.7,2.9],
  [1.8,1.6,1.3,0.96,0.68,0.4,0.1,-0.24,-0.04,0.55,1.6,2.8],
  [1.4,1.9,1.35,1.02,0.74,0.44,0.14,-0.21,-0.07,0.45,1.4,2.6],
  [1.6,1.45,1.25,0.92,0.65,0.38,0.08,-0.25,-0.08,0.4,1.3,2.4],
  [2.0,1.7,1.5,1.05,0.76,0.46,0.16,-0.2,-0.1,0.3,1.15,2.2],
  [1.2,1.5,1.2,0.9,0.63,0.36,0.07,-0.26,-0.05,0.5,1.5,2.7],
  [1.5,1.65,1.32,0.98,0.7,0.41,0.11,-0.23,-0.05,0.5,1.5,2.7],
  [1.9,1.4,1.28,0.94,0.67,0.39,0.09,-0.24,-0.06,0.48,1.45,2.6]
];
const cp2007k = [
  [0.5,1.9,1.6,1.2,0.85,0.55,0.22,-0.1,-0.12,0.6,2.2],
  [1.4,0.1,1.5,1.15,0.82,0.52,0.2,-0.12,-0.1,0.7,2.3],
  [1.8,1.4,1.3,1.1,0.8,0.5,0.18,-0.14,-0.14,0.55,2.1],
  [2.2,1.6,1.45,1.18,0.84,0.54,0.21,-0.11,-0.13,0.5,2.0]
];
const cp2007r = [
  [_,2.6,2.0,1.5,1.1,0.75,0.38,0.05,-0.25,-0.38,0.3,2.6],
  [_,_,2.6,1.7,1.2,0.82,0.42,0.07,-0.22,-0.4,-0.42,1.0,2.8],
  [_,_,_,_,2.6,0.9,0.45,0.1,-0.2,-0.4,-0.45,-0.2,2.2],
  [2.3,1.8,1.55,1.25,1.0,0.7,0.35,0.02,-0.27,-0.42,-0.5,-0.45,0.5,2.6],
  [2.6,2.0,1.7,1.35,1.05,0.72,0.36,0.03,-0.26,-0.45,-0.5,-0.52,-0.6,-0.55,-0.67]
];
const cp2008r = [
  [_,2.5,2.1,1.65,1.25,0.9,0.55,0.2,-0.15,-0.4,-0.35,2.4],
  [_,2.6,2.0,1.55,1.2,0.85,0.5,0.15,-0.2,-0.45,-0.55,-0.5,2.2],
  [2.4,2.2,1.85,1.5,1.15,0.8,0.45,0.12,-0.22,-0.48,-0.6,-0.6,-0.2,2.0],
  [_,2.4,2.05,1.7,1.35,1.0,0.7,0.45,0.22,0.02,-0.02,2.2],
  [2.2,2.0,1.7,1.4,1.05,0.7,0.38,0.05,-0.28,-0.5,-0.65,-0.7,-0.72,-0.6,-0.75],
  [_,2.3,1.95,1.6,1.25,0.88,0.5,0.15,-0.2,-0.5,-0.6,-0.75,-0.8,-0.88,-1.0],
  [2.5,2.1,1.8,1.45,1.1,0.75,0.4,0.08,-0.25,-0.55,-0.62,-0.68,-0.5,0.1,1.3],
  [2.0,1.9,1.6,1.3,0.95,0.62,0.3,0.0,-0.3,-0.55,-0.7,-0.8,-0.85,-0.9,-0.85],
  [_,2.7,2.3,1.8,1.4,1.05,0.68,0.3,-0.05,-0.35,-0.45,-0.45,-0.3,0.2,-0.3]
];
const cp2009r = [
  [2.1,2.5,2.0,1.5,1.05,0.65,0.3,0.0,-0.25,0.0,2.5],
  [_,2.4,1.9,1.45,1.0,0.62,0.28,-0.02,-0.3,-0.35,0.4,2.8],
  [_,_,2.2,1.55,1.08,0.68,0.32,0.02,-0.28,-0.4,-0.3,0.8,2.6],
  [2.0,2.3,1.85,1.4,0.98,0.6,0.26,-0.04,-0.3,-0.42,-0.45,-0.3,0.9,2.6],
  [_,2.5,2.05,1.5,1.05,0.64,0.3,-0.01,-0.28,-0.4,-0.48,-0.55,-0.2,0.5,0.8],
  [2.2,2.1,1.75,1.35,0.95,0.58,0.25,-0.05,-0.32,-0.45,-0.55,-0.65,-0.75,-0.85,-1.0],
  [_,_,2.4,1.6,1.12,0.7,0.33,0.0,-0.27,-0.4,-0.5,-0.6,-0.6,-0.65,-0.9]
];
const cp2010r = [
  [_,2.4,1.7,1.2,0.9,0.58,0.3,0.0,-0.25,1.7,3.5],
  [_,2.6,1.8,1.25,0.92,0.6,0.32,0.02,-0.3,-0.4,-0.4,1.6,3.2],
  [_,_,2.1,1.35,0.98,0.64,0.34,0.04,-0.28,-0.42,-0.45,0.0,2.4],
  [2.5,2.2,1.75,1.22,0.9,0.56,0.28,0.0,-0.32,-0.45,-0.5,-0.45,0.3,2.4],
  [_,2.5,1.9,1.3,0.95,0.62,0.33,0.02,-0.3,-0.45,-0.55,-0.55,-0.3,0.5,1.3],
  [2.3,2.1,1.65,1.18,0.86,0.54,0.26,-0.02,-0.33,-0.48,-0.58,-0.62,-0.5,-0.1,0.35],
  [_,2.3,1.8,1.28,0.93,0.6,0.3,0.0,-0.3,-0.48,-0.6,-0.7,-0.78,-0.8,-0.82],
  [_,_,2.2,1.4,1.0,0.66,0.36,0.05,-0.27,-0.45,-0.55,-0.6,-0.6,-0.45,-0.6],
  [_,_,2.5,1.6,1.1,0.72,0.4,0.08,-0.25,-0.42,-0.5,-0.3,1.0,2.8],
  [2.2,1.9,1.5,1.1,0.8,0.5,0.22,-0.05,-0.35,-0.5,-0.55,-0.5,-0.1,1.2,2.5]
];
const cp2011k = [
  [2.0,1.7,1.4,1.0,0.7,0.42,0.15,-0.1,-0.35,-0.38,-0.38,-0.05,0.75,1.1],
  [1.9,1.65,1.35,0.95,0.66,0.38,0.12,-0.12,-0.37,-0.4,-0.38,-0.3,-0.1,0.25,0.65]
];
const cp2011r = [
  [_,_,2.6,1.5,1.1,0.75,0.4,0.08,-0.3,2.2],
  [_,2.5,2.0,1.4,1.05,0.7,0.38,0.06,-0.3,-0.45,-0.4,2.0],
  [_,_,2.3,1.45,1.08,0.72,0.42,0.1,-0.28,-0.45,-0.48,0.5,2.6],
  [2.4,2.2,1.8,1.35,1.0,0.66,0.35,0.04,-0.32,-0.48,-0.55,-0.5,-0.2,0.6,1.55],
  [_,2.4,1.95,1.42,1.06,0.7,0.38,0.06,-0.3,-0.5,-0.62,-0.68,-0.65,-0.45,-0.25],
  [_,_,2.5,1.5,1.1,0.73,0.4,0.07,-0.3,-0.5,-0.65,-0.75,-0.85,-0.9,-1.0]
];
const cp2012k = [
  [2.1,1.8,1.5,1.15,0.82,0.5,0.2,-0.08,-0.15,0.6,1.7,2.8],
  [2.0,1.75,1.45,1.1,0.78,0.47,0.18,-0.1,-0.2,0.3,1.2,2.3],
  [1.95,1.7,1.4,1.05,0.75,0.45,0.16,-0.12,-0.25,0.05,0.8,1.9],
  [1.9,1.65,1.36,1.02,0.72,0.42,0.14,-0.14,-0.28,-0.1,0.5,1.4,2.4],
  [1.85,1.6,1.32,0.99,0.7,0.4,0.12,-0.15,-0.3,-0.2,0.25,1.0,1.9],
  [1.8,1.56,1.28,0.96,0.67,0.38,0.1,-0.16,-0.32,-0.3,0.05,0.7,1.4,2.2],
  [1.75,1.52,1.25,0.93,0.65,0.36,0.09,-0.17,-0.33,-0.35,-0.1,0.45,1.0,1.6,2.1],
  [1.7,1.48,1.22,0.9,0.62,0.34,0.07,-0.18,-0.34,-0.37,-0.2,0.25,0.7,1.2,1.6],
  [2.05,1.77,1.47,1.12,0.8,0.48,0.19,-0.09,-0.18,0.45,1.45,2.5],
  [1.88,1.62,1.34,1.0,0.71,0.41,0.13,-0.14,-0.29,-0.25,0.15,0.85,1.2,1.5],
  [2.08,1.79,1.49,1.14,0.81,0.49,0.2,-0.08,-0.16,0.55,1.6,2.65],
  [1.98,1.72,1.42,1.08,0.77,0.46,0.17,-0.11,-0.22,0.18,1.0,2.1],
  [1.92,1.67,1.38,1.04,0.74,0.44,0.15,-0.13,-0.26,-0.03,0.65,1.65],
  [1.87,1.62,1.34,1.0,0.71,0.41,0.13,-0.15,-0.29,-0.15,0.38,1.2,2.15],
  [1.82,1.58,1.3,0.97,0.68,0.39,0.11,-0.16,-0.31,-0.25,0.15,0.85,1.65,2.4],
  [1.72,1.5,1.23,0.92,0.64,0.35,0.08,-0.18,-0.34,-0.36,-0.15,0.35,0.85,1.4,1.3]
];
const cp2013k = [
  [2.1,1.8,1.5,1.15,0.85,0.55,0.25,-0.02,-0.15,0.35,1.05,1.8,2.6],
  [2.05,1.75,1.46,1.12,0.82,0.52,0.23,-0.04,-0.18,0.2,0.85,1.55,2.3],
  [2.0,1.72,1.43,1.1,0.8,0.5,0.22,-0.05,-0.2,0.1,0.7,1.35,2.0],
  [1.95,1.68,1.4,1.07,0.78,0.48,0.2,-0.06,-0.22,0.0,0.55,1.15,1.75],
  [1.9,1.65,1.37,1.05,0.76,0.47,0.19,-0.07,-0.24,-0.08,0.4,0.95,1.5,1.9],
  [1.85,1.62,1.34,1.03,0.74,0.45,0.18,-0.08,-0.25,-0.15,0.25,0.75,1.25,1.6],
  [1.8,1.58,1.31,1.0,0.72,0.44,0.17,-0.09,-0.26,-0.22,0.1,0.55,1.0,1.3,1.4],
  [1.75,1.55,1.28,0.98,0.7,0.42,0.16,-0.1,-0.27,-0.3,-0.2,0.05,0.3,0.45],
  [2.15,1.82,1.52,1.17,0.87,0.56,0.26,-0.01,-0.13,0.45,1.25,2.1],
  [1.98,1.7,1.42,1.09,0.79,0.49,0.21,-0.05,-0.21,-0.05,0.45,1.0,1.4,1.3],
  [2.12,1.81,1.51,1.16,0.86,0.55,0.25,-0.01,-0.14,0.4,1.15,1.95,2.75],
  [2.02,1.73,1.44,1.11,0.81,0.51,0.22,-0.04,-0.19,0.15,0.78,1.45,2.15],
  [1.92,1.66,1.38,1.06,0.77,0.47,0.19,-0.07,-0.23,-0.04,0.48,1.05,1.62,2.05],
  [1.82,1.6,1.32,1.01,0.73,0.44,0.17,-0.09,-0.25,-0.18,0.18,0.65,1.12,1.45,1.2],
  [1.78,1.56,1.29,0.99,0.71,0.43,0.16,-0.1,-0.27,-0.26,-0.05,0.35,0.75,1.1,0.9]
];
const cp2014k = [
  [2.05,1.75,1.45,1.12,0.82,0.52,0.23,-0.04,-0.12,0.4,1.15,1.95,2.7],
  [2.0,1.7,1.42,1.09,0.8,0.5,0.21,-0.05,-0.15,0.25,0.95,1.7,2.4],
  [1.95,1.67,1.39,1.06,0.78,0.48,0.2,-0.06,-0.18,0.12,0.78,1.5,2.15],
  [1.9,1.64,1.36,1.04,0.76,0.47,0.19,-0.07,-0.2,0.02,0.62,1.3,1.9],
  [1.85,1.6,1.33,1.02,0.74,0.45,0.18,-0.08,-0.22,-0.08,0.45,1.05,1.6,2.0],
  [1.8,1.57,1.3,1.0,0.72,0.44,0.17,-0.09,-0.24,-0.15,0.28,0.8,1.2,1.5],
  [1.75,1.54,1.27,0.98,0.7,0.42,0.16,-0.1,-0.26,-0.22,0.1,0.55,0.9,1.0,0.95],
  [1.7,1.5,1.24,0.95,0.68,0.41,0.15,-0.11,-0.27,-0.33,-0.36,-0.3,-0.1,0.15,0.33],
  [1.6,1.45,1.2,0.93,0.67,0.4,0.14,-0.12,-0.28,-0.3,-0.2,0.1,0.45,0.7,0.9],
  [2.1,1.78,1.48,1.15,0.84,0.54,0.24,-0.03,-0.1,0.5,1.3,2.1],
  [2.08,1.77,1.47,1.14,0.83,0.53,0.23,-0.03,-0.11,0.45,1.22,2.05],
  [1.98,1.69,1.4,1.08,0.79,0.49,0.2,-0.05,-0.16,0.18,0.87,1.6,2.3],
  [1.88,1.62,1.35,1.03,0.75,0.46,0.18,-0.07,-0.21,-0.03,0.53,1.18,1.75,2.2],
  [1.78,1.55,1.28,0.99,0.71,0.43,0.16,-0.1,-0.25,-0.18,0.2,0.68,1.05,1.3,1.0],
  [1.65,1.48,1.22,0.94,0.67,0.4,0.14,-0.12,-0.28,-0.32,-0.28,-0.1,0.2,0.6,0.95]
];
const cp2015k = [
  [2.05,1.75,1.45,1.1,0.8,0.5,0.2,-0.08,-0.2,0.15,0.8,1.55,2.3],
  [2.0,1.72,1.42,1.08,0.78,0.48,0.19,-0.09,-0.22,0.05,0.65,1.35,2.05],
  [1.95,1.68,1.39,1.06,0.76,0.47,0.18,-0.1,-0.24,-0.05,0.5,1.15,1.8,2.4],
  [1.9,1.65,1.36,1.04,0.74,0.45,0.17,-0.11,-0.25,-0.12,0.38,1.0,1.6,2.1],
  [1.85,1.62,1.33,1.02,0.72,0.44,0.16,-0.12,-0.26,-0.18,0.25,0.8,1.35,1.8],
  [1.8,1.58,1.3,1.0,0.7,0.42,0.15,-0.13,-0.27,-0.25,0.1,0.6,1.1,1.5,1.2],
  [1.75,1.55,1.27,0.98,0.68,0.41,0.14,-0.14,-0.28,-0.3,0.0,0.45,0.9,1.3,1.6],
  [2.1,1.78,1.48,1.12,0.82,0.52,0.21,-0.07,-0.18,0.3,1.0,1.8,2.6],
  [2.08,1.77,1.47,1.11,0.81,0.51,0.2,-0.07,-0.19,0.22,0.9,1.68,2.45],
  [1.98,1.7,1.4,1.07,0.77,0.47,0.18,-0.1,-0.23,0.0,0.58,1.25,1.92],
  [1.88,1.63,1.35,1.03,0.73,0.44,0.16,-0.12,-0.26,-0.15,0.3,0.9,1.48,1.95],
  [1.78,1.57,1.28,0.99,0.69,0.41,0.14,-0.14,-0.28,-0.28,0.05,0.52,1.0,1.4,1.35]
];

// [black curves, red curves] per year
const fpCurves = {
  1996: [fp1996k, fp1996r], 1997: [[], fp1997r], 1998: [[], fp1998r], 1999: [[], fp1999r],
  2000: [[], fp2000r], 2001: [[], fp2001r], 2002: [[], fp2002r], 2003: [fp2003k, fp2003r],
  2004: [fp2004k, []], 2005: [fp2005k, []], 2006: [fp2006k, []], 2007: [fp2007k, fp2007r],
  2008: [[], fp2008r], 2009: [[], fp2009r], 2010: [[], fp2010r], 2011: [fp2011k, fp2011r],
  2012: [fp2012k, []], 2013: [fp2013k, []], 2014: [fp2014k, []], 2015: [fp2015k, []]
};
const cpCurves = {
  1996: [cp1996k, cp1996r], 1997: [[], cp1997r], 1998: [[], cp1998r], 1999: [[], cp1999r],
  2000: [[], cp2000r], 2001: [[], cp2001r], 2002: [[], cp2002r], 2003: [cp2003k, cp2003r],
  2004: [cp2004k, []], 2005: [cp2005k, []], 2006: [cp2006k, []], 2007: [cp2007k, cp2007r],
  2008: [[], cp2008r], 2009: [[], cp2009r], 2010: [[], cp2010r], 2011: [cp2011k, cp2011r],
  2012: [cp2012k, []], 2013: [cp2013k, []], 2014: [cp2014k, []], 2015: [cp2015k, []]
};

const FONT = '"Liberation Sans", Arial, Helvetica, sans-serif';
const fig = document.getElementById('fig');

const boxPlugin = {
  id: 'box',
  afterDatasetsDraw(chart) {
    const { ctx, chartArea: a, scales: { x, y } } = chart;
    ctx.save();
    ctx.strokeStyle = '#7a7a7a';
    ctx.lineWidth = 1;
    ctx.beginPath();
    x.ticks.forEach(t => {
      const px = Math.round(x.getPixelForValue(t.value)) + 0.5;
      ctx.moveTo(px, a.bottom); ctx.lineTo(px, a.bottom - 3);
      ctx.moveTo(px, a.top); ctx.lineTo(px, a.top + 3);
    });
    y.ticks.forEach(t => {
      const py = Math.round(y.getPixelForValue(t.value)) + 0.5;
      ctx.moveTo(a.left, py); ctx.lineTo(a.left + 3, py);
      ctx.moveTo(a.right, py); ctx.lineTo(a.right - 3, py);
    });
    ctx.stroke();
    ctx.lineWidth = 1.8;
    ctx.strokeRect(a.left, a.top, a.width, a.height);
    ctx.restore();
  }
};

function makePanel(sets, year, col, row) {
  const L = Math.round(38 + col * 206.2);
  const T = Math.round(43 + row * 193.2);
  const cv = document.createElement('canvas');
  cv.width = 208; cv.height = 223;
  cv.style.left = (L - 44) + 'px';
  cv.style.top = (T - 43) + 'px';
  fig.appendChild(cv);

  const datasets = [];
  const add = (curves, color) => curves.forEach(c => datasets.push({
    data: xs.map((x, i) => ({ x: x, y: c[i] === undefined ? null : c[i] })),
    borderColor: color,
    borderWidth: 1.2,
    pointRadius: 0,
    fill: false,
    cubicInterpolationMode: 'monotone',
    spanGaps: false
  }));
  add(sets[1], '#ff0000');   // red drawn on top
  add(sets[0], '#000000');

  new Chart(cv, {
    type: 'line',
    data: { datasets: datasets },
    options: {
      responsive: false,
      animation: false,
      devicePixelRatio: 1,
      events: [],
      layout: { padding: { left: 0, right: 6, top: 0, bottom: 0 } },
      plugins: {
        legend: { display: false },
        tooltip: { enabled: false },
        title: {
          display: true,
          fullSize: false,
          text: String(year),
          color: '#000',
          font: { family: FONT, size: 23, weight: 'bold', lineHeight: 1.2 },
          padding: { top: 9.5, bottom: 5.9 }
        }
      },
      scales: {
        x: {
          type: 'linear', min: -0.175, max: 0.175,
          grid: { display: false, drawTicks: false },
          border: { display: false },
          afterBuildTicks: s => { s.ticks = xTicks.map(v => ({ value: v })); },
          afterFit: s => { s.height = 40; },
          ticks: {
            autoSkip: false, maxRotation: 0, padding: 15, color: '#404040',
            font: { family: FONT, size: 19 },
            callback: (v, i) => xTickLabels[i]
          }
        },
        y: {
          type: 'linear', min: -1.5, max: 2,
          grid: { display: false, drawTicks: false },
          border: { display: false },
          afterBuildTicks: s => { s.ticks = yTicks.map(v => ({ value: v })); },
          afterFit: s => { s.width = 44; },
          ticks: {
            autoSkip: false, padding: 8, color: '#404040',
            font: { family: FONT, size: 19 },
            callback: (v, i) => yTickLabels[i]
          }
        }
      }
    },
    plugins: [boxPlugin]
  });
}

[[fpCurves, 0], [cpCurves, 3]].forEach(([table, c0]) => {
  topYears.forEach((yr, i) => makePanel(table[yr], yr, c0 + 1 + i, 0));
  gridYears.forEach((yr, i) => makePanel(table[yr], yr, c0 + (i % 3), 1 + Math.floor(i / 3)));
});
</script>
</body>
</html>
